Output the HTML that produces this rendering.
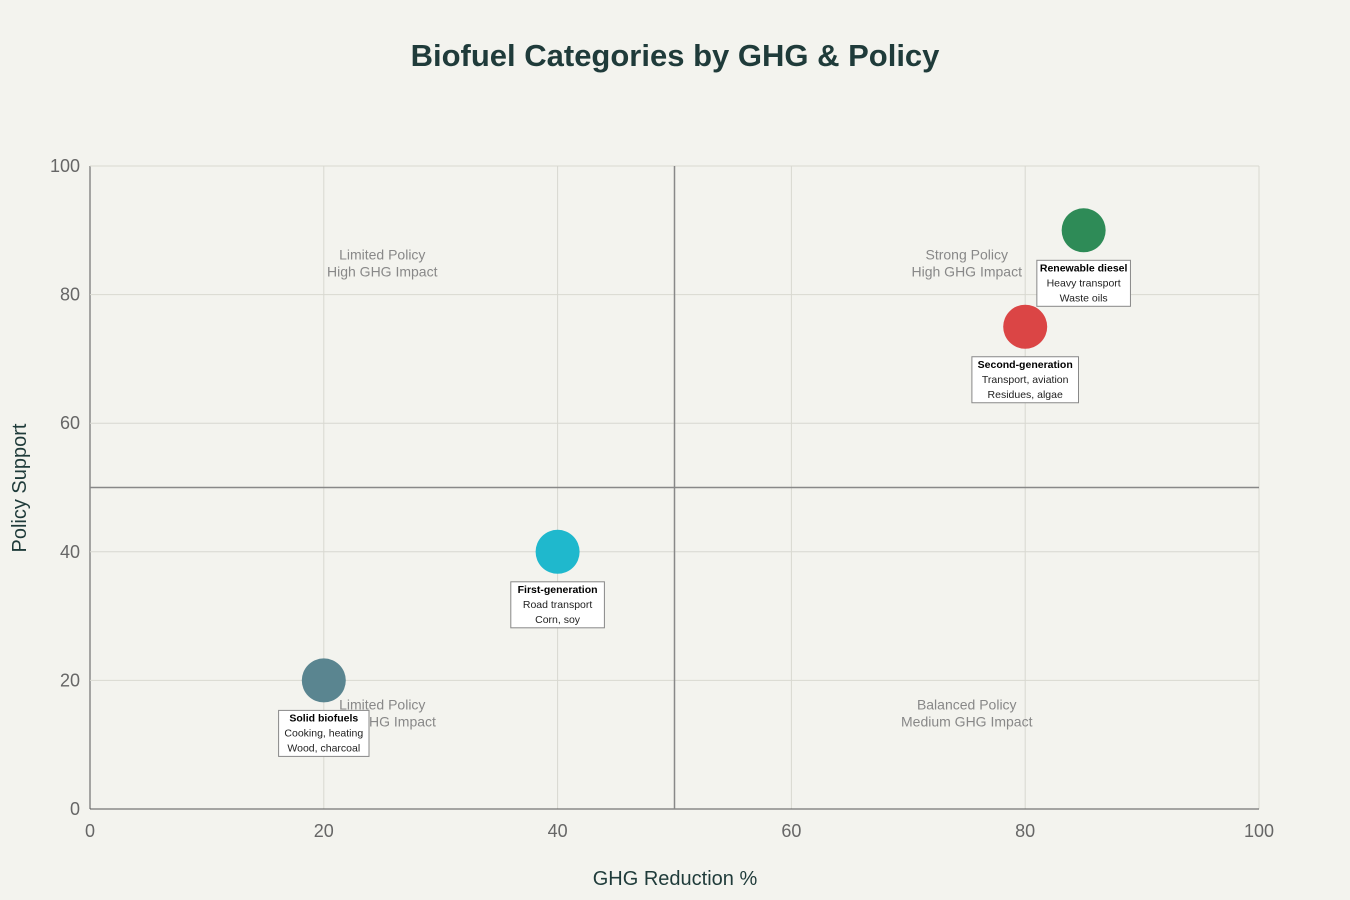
<!DOCTYPE html>
<html><head><meta charset="utf-8"><style>
body{margin:0;background:#f3f3ee;font-family:"Liberation Sans",sans-serif}
svg{display:block}
</style></head><body>
<svg id="c" width="1350" height="900">
<text x="675" y="66" text-anchor="middle" font-size="31" font-weight="bold" fill="#1f3b3a">Biofuel Categories by GHG &amp; Policy</text>
<g id="grid"></g><g id="marks"></g>
<text x="675" y="885" text-anchor="middle" font-size="20" fill="#1f3b3a">GHG Reduction %</text>
<text transform="translate(26,488) rotate(-90)" text-anchor="middle" font-size="20" fill="#1f3b3a">Policy Support</text>
</svg>
<script>
const names=["Solid biofuels","First-generation","Second-generation","Renewable diesel"];
const line2=["Cooking, heating","Road transport","Transport, aviation","Heavy transport"];
const line3=["Wood, charcoal","Corn, soy","Residues, algae","Waste oils"];
const ghg=[20,40,80,85];
const policy=[20,40,75,90];
const colors=["#5a8590","#1fb8cd","#db4545","#2e8b57"];
const xTicks=[0,20,40,60,80,100];
const yTicks=[0,20,40,60,80,100];
const quadText=[["Limited Policy","High GHG Impact",25,85],["Strong Policy","High GHG Impact",75,85],["Limited Policy","Low GHG Impact",25,15],["Balanced Policy","Medium GHG Impact",75,15]];
const NS="http://www.w3.org/2000/svg";
const X=v=>90+v*11.69, Y=v=>809-v*6.43;
function mk(t,a,p){const e=document.createElementNS(NS,t);for(const k in a)e.setAttribute(k,a[k]);p.appendChild(e);return e;}
const g=document.getElementById('grid'),m=document.getElementById('marks');
xTicks.forEach(v=>{
 const l=mk('line',{x1:X(v),x2:X(v),y1:Y(0),y2:Y(100),stroke:v==0?'#555':'#d8d8d0','stroke-width':1},g);
 
 const t=mk('text',{x:X(v),y:837,'text-anchor':'middle','font-size':18,fill:'#666'},g);t.textContent=v;
 
});
yTicks.forEach(v=>{
 const l=mk('line',{x1:X(0),x2:X(100),y1:Y(v),y2:Y(v),stroke:v==0?'#555':'#d8d8d0','stroke-width':1},g);
 
 const t=mk('text',{x:80,y:Y(v)+6,'text-anchor':'end','font-size':18,fill:'#666'},g);t.textContent=v;
 
});
let d=mk('line',{x1:X(50),x2:X(50),y1:Y(0),y2:Y(100),stroke:'#888','stroke-width':1.5},g);

d=mk('line',{x1:X(0),x2:X(100),y1:Y(50),y2:Y(50),stroke:'#888','stroke-width':1.5},g);

quadText.forEach(q=>{
 const t=mk('text',{x:X(q[2]),y:Y(q[3])-3,'text-anchor':'middle','font-size':14,fill:'#888'},g);
 
 mk('tspan',{x:X(q[2]),dy:0},t).textContent=q[0];
 mk('tspan',{x:X(q[2]),dy:17},t).textContent=q[1];
});
names.forEach((n,i)=>{
 const cx=X(ghg[i]),cy=Y(policy[i]);
 const c=mk('circle',{cx:cx,cy:cy,r:22,fill:colors[i]},m);
 
 const w=Math.max(n.length*5.6,line2[i].length*5.4,line3[i].length*5.4)+4;
 const r=mk('rect',{x:cx-w/2,y:cy+30,width:w,height:46,fill:'#fff',stroke:'#888','stroke-width':1},m);
 
 const t=mk('text',{'text-anchor':'middle','font-size':10.5,fill:'#222'},m);
 
 mk('tspan',{x:cx,y:cy+41,'font-weight':'bold',fill:'#000'},t).textContent=n;
 mk('tspan',{x:cx,y:cy+56},t).textContent=line2[i];
 mk('tspan',{x:cx,y:cy+71},t).textContent=line3[i];
});
</script>
</body></html>
